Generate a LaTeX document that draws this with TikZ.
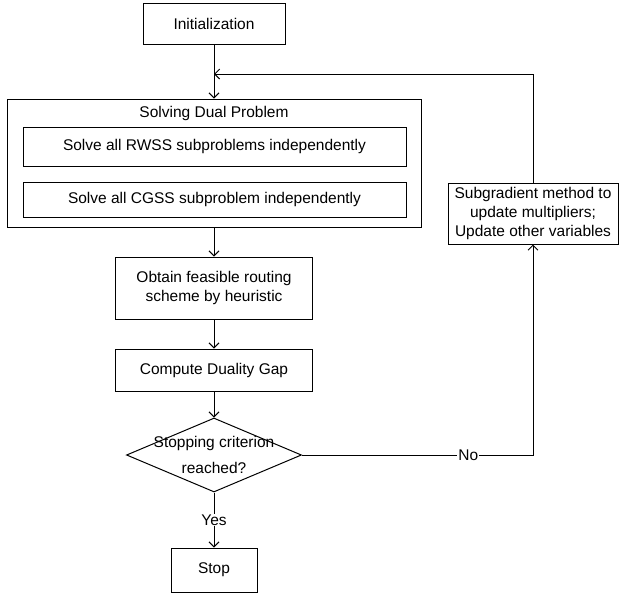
\documentclass[tikz,border=0pt]{standalone}
\usepackage{fontspec}
\setmainfont{Liberation Sans}
\usetikzlibrary{positioning,shapes.geometric,arrows.meta}

\begin{document}
\begin{tikzpicture}[x=1pt, y=-1pt, line width=1pt,
  stepbox/.style={draw, inner sep=0pt, align=center, font=\fontsize{15.5}{19}\selectfont},
  decision/.style={draw, diamond, inner sep=0pt, minimum width=175pt, minimum height=74pt},
  flow/.style={-{Straight Barb[length=5pt, width=10pt]}},
  tag/.style={fill=white, inner sep=1pt, font=\fontsize{15.5}{19}\selectfont}
]
  \useasboundingbox (0,0) rectangle (619,595);

  \node[stepbox, minimum width=142pt, minimum height=41pt] (init) at (214,23.5) {Initialization};
  \node[stepbox, minimum width=414pt, minimum height=128pt] (dual) at (214,163) {};
  \node[font=\fontsize{15.5}{19}\selectfont, inner sep=0pt] (dualtitle) at (214,113) {Solving Dual Problem};
  \node[stepbox, minimum width=383pt, minimum height=39pt] (rwss) at (214.5,146.5) {Solve all RWSS subproblems independently};
  \node[stepbox, minimum width=383pt, minimum height=35pt] (cgss) at (214.5,199.5) {Solve all CGSS subproblem\ independently};
  \node[stepbox, minimum width=197pt, minimum height=62pt] (obtain) at (214,288) {Obtain feasible routing\\scheme by heuristic};
  \node[stepbox, minimum width=197pt, minimum height=42pt] (gap) at (214,370) {Compute Duality Gap};
  \node[decision, label={[align=center, font=\fontsize{15.5}{26}\selectfont]center:Stopping criterion\\reached?}] (stopq) at (214,455) {};
  \node[stepbox, minimum width=86pt, minimum height=44pt] (stop) at (214,570) {Stop};
  \node[stepbox, minimum width=170pt, minimum height=61pt] (sub) at (533,213.5) {Subgradient method to\\update multipliers;\\Update other variables};

  \coordinate (merge) at (214,74);

  \draw[flow] (init) -- (dual);
  \draw[flow] (sub.north) |- (merge);
  \draw[flow] (dual) -- (obtain);
  \draw[flow] (obtain) -- (gap);
  \draw[flow] (gap) -- (stopq);
  \draw[flow] (stopq) -- node[tag] {Yes} (stop);
  \draw[flow] (stopq.east) -| node[tag, pos=0.36] {No} (sub.south);
\end{tikzpicture}
\end{document}
